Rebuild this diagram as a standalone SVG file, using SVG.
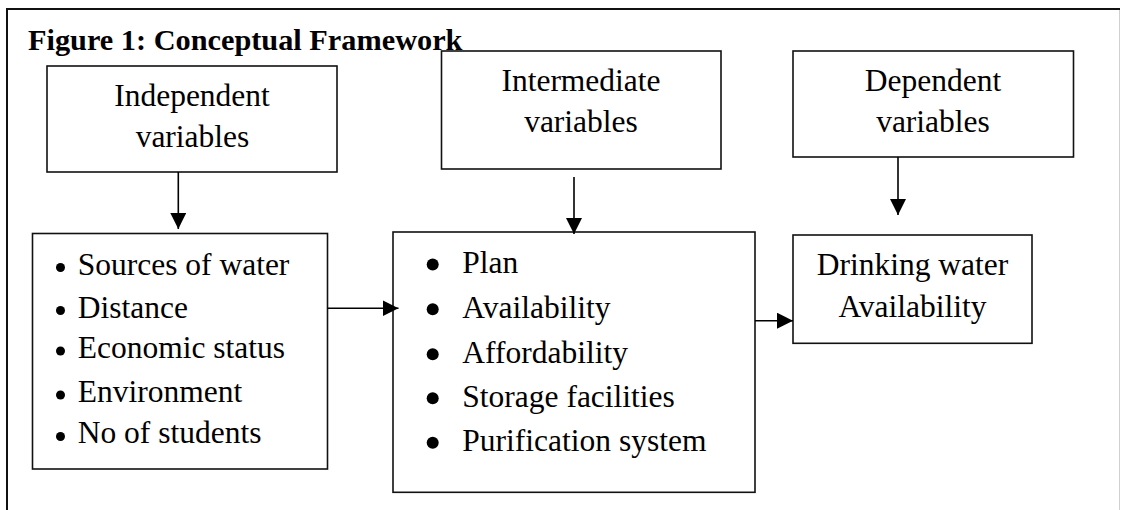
<svg xmlns="http://www.w3.org/2000/svg" width="1121" height="510" viewBox="0 0 1121 510">
<style>
  .box { fill: #fff; stroke: #111; stroke-width: 1.6; }
  .t { font-family: 'Liberation Serif', 'Times New Roman', serif; font-size: 31.5px; fill: #000; }
  .c { text-anchor: middle; }
  .title { font-family: 'Liberation Serif', 'Times New Roman', serif; font-size: 30.3px; font-weight: bold; fill: #000; }
  .conn { stroke: #000; stroke-width: 1.6; fill: none; marker-end: url(#arrow); }
  .dot { fill: #000; }
</style>
<defs>
  <marker id="arrow" markerUnits="userSpaceOnUse" markerWidth="17" markerHeight="17" refX="16" refY="8" orient="auto">
    <path d="M0,0 L16,8 L0,16 Z" fill="#000"/>
  </marker>
</defs>
<rect width="1121" height="510" fill="#fff"/>
<g id="frame">
  <path d="M7,510 L7,9 L1120,9" fill="none" stroke="#111" stroke-width="2"/>
  <line x1="1119.5" y1="10" x2="1119.5" y2="510" stroke="#d0d0d0" stroke-width="1"/>
</g>
<text id="title" class="title" x="28" y="50">Figure 1: Conceptual Framework</text>

<g id="independent">
  <rect class="box" x="47" y="66" width="290" height="106"/>
  <text class="t c" x="192" y="105.5">Independent</text>
  <text class="t c" x="192.5" y="147">variables</text>
</g>
<g id="intermediate">
  <rect class="box" x="441.5" y="51" width="279.5" height="118"/>
  <text class="t c" x="581" y="90.7">Intermediate</text>
  <text class="t c" x="581" y="131.7">variables</text>
</g>
<g id="dependent">
  <rect class="box" x="793" y="51" width="280.5" height="106"/>
  <text class="t c" x="933" y="90.7">Dependent</text>
  <text class="t c" x="933" y="131.7">variables</text>
</g>

<g id="factors">
  <rect class="box" x="32.5" y="233.5" width="295" height="235.5"/>
  <circle class="dot" cx="60.5" cy="267.5" r="4.5"/>
  <circle class="dot" cx="60.5" cy="310.5" r="4.5"/>
  <circle class="dot" cx="60.5" cy="351" r="4.5"/>
  <circle class="dot" cx="60.5" cy="395" r="4.5"/>
  <circle class="dot" cx="60.5" cy="436.5" r="4.5"/>
  <text class="t" x="77.7" y="275">Sources of water</text>
  <text class="t" x="77.7" y="317.7">Distance</text>
  <text class="t" x="77.7" y="358">Economic status</text>
  <text class="t" x="77.7" y="401.7">Environment</text>
  <text class="t" x="77.7" y="442.7">No of students</text>
</g>
<g id="mediators">
  <rect class="box" x="393" y="232" width="362" height="260.3"/>
  <circle class="dot" cx="432.7" cy="264.5" r="6"/>
  <circle class="dot" cx="432.7" cy="309.3" r="6"/>
  <circle class="dot" cx="432.7" cy="354.3" r="6"/>
  <circle class="dot" cx="432.7" cy="398.3" r="6"/>
  <circle class="dot" cx="432.7" cy="442.7" r="6"/>
  <text class="t" x="462.3" y="273.3">Plan</text>
  <text class="t" x="462.3" y="317.7">Availability</text>
  <text class="t" x="462.3" y="362.7">Affordability</text>
  <text class="t" x="462.3" y="406.7">Storage facilities</text>
  <text class="t" x="462.3" y="451">Purification system</text>
</g>
<g id="outcome">
  <rect class="box" x="793" y="235" width="239" height="108.3"/>
  <text class="t c" x="912.5" y="275">Drinking water</text>
  <text class="t c" x="912.5" y="317.3">Availability</text>
</g>

<g id="connectors">
  <line class="conn" x1="178.3" y1="172" x2="178.3" y2="229"/>
  <line class="conn" x1="574" y1="177" x2="574" y2="234"/>
  <line class="conn" x1="898" y1="157" x2="898" y2="215"/>
  <line class="conn" x1="327.5" y1="308.3" x2="398.5" y2="308.3"/>
  <line class="conn" x1="755" y1="320.7" x2="793" y2="320.7"/>
</g>
</svg>
